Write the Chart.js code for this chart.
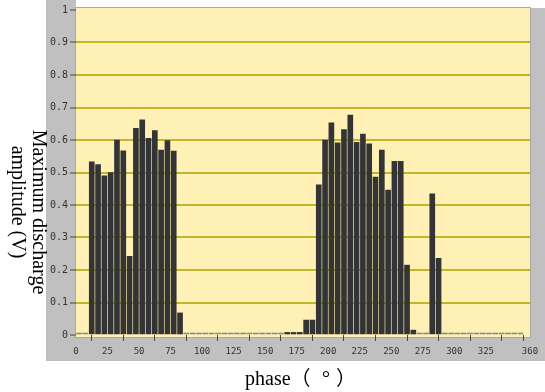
<!DOCTYPE html>
<html>
<head>
<meta charset="utf-8">
<script src="https://cdn.jsdelivr.net/npm/chart.js@4"></script>
<style>
  body { margin: 0; background: #fff; }
  canvas { display: block; }
</style>
</head>
<body>
<canvas id="phaseChart" width="545" height="392"></canvas>
<script>
// 5 degree phase bins (bin centres) and the max amplitude read for each
const phaseBins = [
    2.5, 7.5, 12.5, 17.5, 22.5, 27.5, 32.5, 37.5, 42.5, 47.5, 52.5, 57.5,
    62.5, 67.5, 72.5, 77.5, 82.5, 87.5, 92.5, 97.5, 102.5, 107.5, 112.5, 117.5,
    122.5, 127.5, 132.5, 137.5, 142.5, 147.5, 152.5, 157.5, 162.5, 167.5, 172.5, 177.5,
    182.5, 187.5, 192.5, 197.5, 202.5, 207.5, 212.5, 217.5, 222.5, 227.5, 232.5, 237.5,
    242.5, 247.5, 252.5, 257.5, 262.5, 267.5, 272.5, 277.5, 282.5, 287.5, 292.5, 297.5,
    302.5, 307.5, 312.5, 317.5, 322.5, 327.5, 332.5, 337.5, 342.5, 347.5, 352.5, 357.5
];
const amplitude = [
    0, 0, 0.533, 0.524, 0.490, 0.500, 0.600, 0.567, 0.242, 0.636, 0.662, 0.605,
    0.629, 0.569, 0.598, 0.566, 0.068, 0, 0, 0, 0, 0, 0, 0,
    0, 0, 0, 0, 0, 0, 0, 0, 0, 0.008, 0.008, 0.008,
    0.046, 0.046, 0.462, 0.600, 0.653, 0.591, 0.632, 0.677, 0.593, 0.618, 0.588, 0.486,
    0.569, 0.446, 0.534, 0.534, 0.215, 0.015, 0, 0, 0.434, 0.236, 0, 0,
    0, 0, 0, 0, 0, 0, 0, 0, 0, 0, 0, null
];

const xTicks = [0, 25, 50, 75, 100, 125, 150, 175, 200, 225, 250, 275, 300, 325, 350, 360];
const xTickLabels = ['0', '25', '50', '75', '100', '125', '150', '175', '200', '225', '250', '275', '300', '325', '', '360'];
const yTicks = [0, 0.1, 0.2, 0.3, 0.4, 0.5, 0.6, 0.7, 0.8, 0.9, 1];
const yTickLabels = ['0', '0.1', '0.2', '0.3', '0.4', '0.5', '0.6', '0.7', '0.8', '0.9', '1'];

const yTitleLines = ['Maximum discharge', 'amplitude (V)'];
// x title pieces, spaced out like the original (full-width brackets)
const xTitleParts = ['phase（', '°', '）'];

// panel background, plot background and the two axis titles
const panelPlugin = {
    id: 'panel',
    beforeDraw(chart) {
        const { ctx, chartArea: a } = chart;
        ctx.save();
        ctx.fillStyle = '#c0c0c0';
        ctx.fillRect(46, 0, 499, 361);
        ctx.fillStyle = '#ffffff';
        ctx.fillRect(a.left, 0, 545 - a.left, 8);
        ctx.fillStyle = '#fff0b6';
        ctx.fillRect(a.left, a.top - 2, a.right - a.left, a.bottom - a.top + 4);
        ctx.strokeStyle = '#a9a9a0';
        ctx.lineWidth = 1;
        ctx.strokeRect(a.left - 0.5, a.top - 2.5, a.right - a.left + 1, a.bottom - a.top + 5);
        ctx.restore();
    },
    afterDraw(chart) {
        const ctx = chart.ctx;
        ctx.save();
        ctx.fillStyle = '#000';
        ctx.font = '20px "Liberation Serif", "Noto Sans CJK SC", serif';
        ctx.textAlign = 'center';
        ctx.textBaseline = 'alphabetic';
        // rotated clockwise, first line on the right
        const lines = [[33, 212], [12, 202]];
        yTitleLines.forEach((txt, i) => {
            ctx.save();
            ctx.translate(lines[i][0], lines[i][1]);
            ctx.rotate(Math.PI / 2);
            ctx.fillText(txt, 0, 0);
            ctx.restore();
        });
        ctx.textAlign = 'left';
        const xs = [245, 322, 336];
        xTitleParts.forEach((t, i) => ctx.fillText(t, xs[i], 385));
        ctx.restore();
    }
};

const ctx = document.getElementById('phaseChart').getContext('2d');
const phaseChart = new Chart(ctx, {
    type: 'bar',
    data: {
        labels: phaseBins,
        datasets: [{
            label: 'Max amplitude',
            data: phaseBins.map((p, i) => ({ x: p, y: amplitude[i] })),
            backgroundColor: c => (c.raw && c.raw.y === 0 ? '#8c8c84' : '#343434'),
            barThickness: 5,
            minBarLength: 2,
            borderWidth: 0
        }]
    },
    options: {
        responsive: false,
        animation: false,
        devicePixelRatio: 1,
        layout: { padding: { top: 10, right: 15, left: 0, bottom: 0 } },
        plugins: {
            legend: { display: false },
            tooltip: { enabled: false }
        },
        scales: {
            x: {
                type: 'linear',
                min: 0,
                max: 360,
                offset: false,
                afterBuildTicks: s => { s.ticks = xTicks.map(v => ({ value: v })); },
                afterFit: s => { s.height = 57; },
                grid: {
                    drawOnChartArea: false,
                    tickLength: 6,
                    tickColor: '#444',
                    tickWidth: 1
                },
                border: { display: false },
                ticks: {
                    autoSkip: false,
                    maxRotation: 0,
                    padding: 5,
                    color: '#333',
                    font: { family: 'DejaVu Sans Mono', size: 9 },
                    callback: (v, i) => xTickLabels[i]
                }
            },
            y: {
                min: 0,
                max: 1,
                afterBuildTicks: s => { s.ticks = yTicks.map(v => ({ value: v })); },
                afterFit: s => { s.width = 76; },
                grid: {
                    color: c => (c.tick && c.tick.value > 0.05 && c.tick.value < 0.95 ? '#c2b628' : 'rgba(0,0,0,0)'),
                    lineWidth: 2,
                    tickLength: 6,
                    tickColor: '#444',
                    tickWidth: 1
                },
                border: { display: false },
                ticks: {
                    autoSkip: false,
                    padding: 2,
                    color: '#333',
                    font: { family: 'DejaVu Sans Mono', size: 10 },
                    callback: (v, i) => yTickLabels[i]
                }
            }
        }
    },
    plugins: [panelPlugin]
});
</script>
</body>
</html>
